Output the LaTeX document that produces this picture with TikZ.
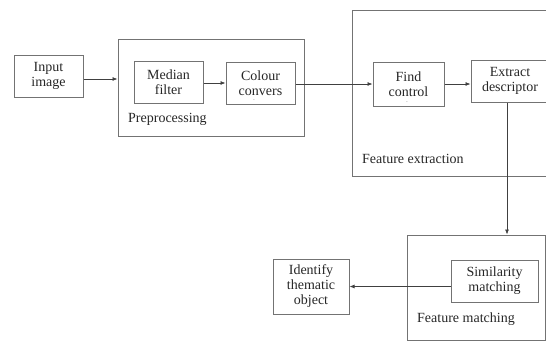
\documentclass[tikz,border=0pt]{standalone}
\usepackage{fontspec}
\setmainfont{Liberation Serif}
\usetikzlibrary{arrows.meta}
\begin{document}
\begin{tikzpicture}[x=1pt,y=-1pt,
  box/.style={draw=black!55, line width=1pt, rectangle, inner sep=0pt, align=center,
    font=\fontsize{14}{15}\selectfont, text=black!85},
  grp/.style={draw=black!55, line width=1pt, rectangle, inner sep=0pt},
  lbl/.style={anchor=west, inner sep=0pt, font=\fontsize{14}{15}\selectfont, text=black!85},
  dotmark/.style={inner sep=0pt, font=\fontsize{5}{5}\selectfont, text=black!50},
  conn/.style={draw=black!75, line width=0.7pt, -{Latex[length=5pt,width=4pt]}}]
\useasboundingbox (0,0) rectangle (546,343);
\clip (0,0) rectangle (546,343);
% containers
\node[grp, minimum width=186, minimum height=97] (pre) at (211,87.5) {};
\node[grp, minimum width=208, minimum height=166] (fe) at (456,93) {};
\node[grp, minimum width=138, minimum height=105] (fm) at (476,287.5) {};
\node[lbl] (prelbl) at (128,119) {Preprocessing};
\node[lbl] (felbl) at (362,159) {Feature extraction};
\node[lbl] (fmlbl) at (417,319) {Feature matching};
% boxes
\node[box, minimum width=69, minimum height=42] (in) at (48.5,76) {Input\\image};
\node[box, minimum width=69, minimum height=42] (med) at (168.5,82) {Median\\filter};
\node[box, minimum width=69, minimum height=42] (col) at (260.5,83) {Colour\\convers};
\node[box, minimum width=71, minimum height=44] (find) at (408.5,84) {Find\\control};
\node[box, minimum width=78, minimum height=42] (ext) at (510,81) {Extract\\descriptor};
\node[box, minimum width=87, minimum height=42] (sim) at (494.5,281) {Similarity\\matching};
\node[box, minimum width=76, minimum height=55] (id) at (311,286.5) {Identify\\thematic\\object};
\node[dotmark] (coldot) at (254,101) {-};
\node[dotmark] (finddot) at (407,102.5) {-};
% connectors
\draw[conn] ([yshift=-3pt]in.east) -- ([yshift=-3pt]in.east -| pre.west);
\draw[conn] (med.east |- col.west) -- (col.west);
\draw[conn] (col.east |- find.west) -- (find.west);
\draw[conn] (find.east) -- (find.east -| ext.west);
\draw[conn] ([xshift=-3pt]ext.south) -- ([xshift=-3pt]ext.south |- fm.north);
\draw[conn] (sim.west |- id.east) -- (id.east);
\end{tikzpicture}
\end{document}
